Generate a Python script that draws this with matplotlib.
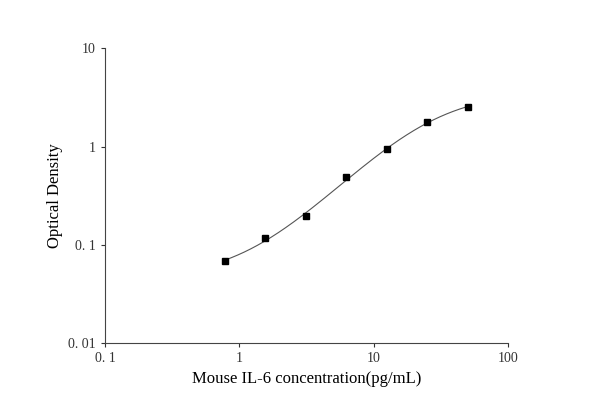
import numpy as np
import matplotlib
matplotlib.use("Agg")
import matplotlib.pyplot as plt
from matplotlib.ticker import FixedLocator, FixedFormatter, NullLocator

plt.rcParams['font.family'] = ['Liberation Serif', 'DejaVu Serif']

conc = [0.78, 1.56, 3.125, 6.25, 12.5, 25, 50]
od = [0.068, 0.117, 0.197, 0.49, 0.95, 1.78, 2.55]
x_ticks = [0.1, 1, 10, 100]
x_labels = ['0. 1', '1', '10', '100']
y_ticks = [0.01, 0.1, 1, 10]
y_labels = ['0. 01', '0. 1', '1', '10']


def four_pl(x, a, b, c, d):
    return d + (a - d) / (1 + (x / c) ** b)


# rough 4PL fit by grid search in log space
lx, ly = np.array(conc), np.log(od)
best = None
for a in np.linspace(0.0, 0.06, 13):
    for b in np.linspace(0.8, 2.5, 35):
        for c in np.geomspace(3, 40, 40):
            for d in np.linspace(2.6, 5, 25):
                y = four_pl(lx, a, b, c, d)
                if np.any(y <= 0):
                    continue
                err = np.sum((np.log(y) - ly) ** 2)
                if best is None or err < best[0]:
                    best = (err, a, b, c, d)
_, a, b, c, d = best

fig = plt.figure(figsize=(5.9, 4.12), dpi=100)
ax = fig.add_axes([0.178, 0.167, 0.683, 0.716])
xs = np.geomspace(conc[0], conc[-1], 300)
ax.plot(xs, four_pl(xs, a, b, c, d), color='#555555', lw=0.8)
ax.plot(conc, od, 's', color='black', ms=5)

ax.set_xscale('log')
ax.set_yscale('log')
ax.set_xlim(0.1, 100)
ax.set_ylim(0.01, 10)
ax.xaxis.set_major_locator(FixedLocator(x_ticks))
ax.xaxis.set_major_formatter(FixedFormatter(x_labels))
ax.yaxis.set_major_locator(FixedLocator(y_ticks))
ax.yaxis.set_major_formatter(FixedFormatter(y_labels))
ax.xaxis.set_minor_locator(NullLocator())
ax.yaxis.set_minor_locator(NullLocator())
for s in ['top', 'right']:
    ax.spines[s].set_visible(False)
for s in ['left', 'bottom']:
    ax.spines[s].set_color('#444444')
ax.tick_params(labelsize=10, length=3, colors='#333333')
ax.set_xlabel('Mouse IL-6 concentration(pg/mL)', fontsize=12)
ax.set_ylabel('Optical Density', fontsize=12)
fig.savefig('out.png')
